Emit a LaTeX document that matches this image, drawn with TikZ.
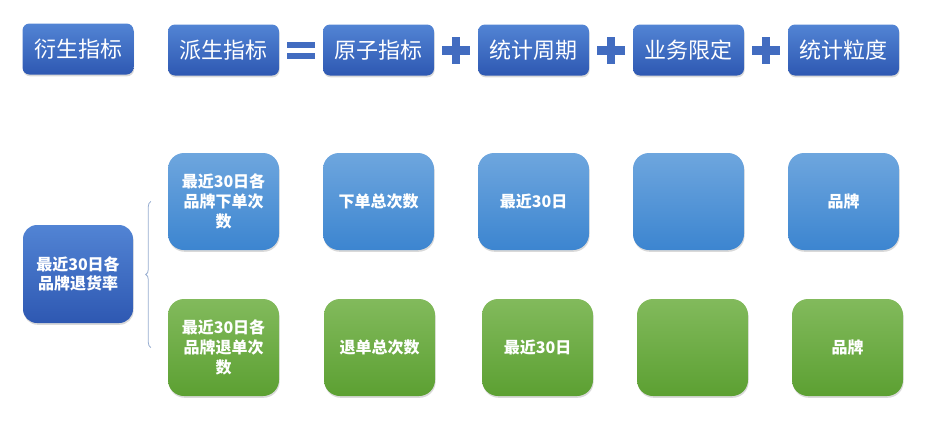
\documentclass[tikz,border=0pt]{standalone}
\usepackage{fontspec}
\setmainfont{Noto Sans CJK SC}
\usepackage{tikz}
\usetikzlibrary{shapes, shadows, positioning, decorations.pathreplacing}
\definecolor{hdA}{RGB}{82,132,212}
\definecolor{hdB}{RGB}{46,88,178}
\definecolor{blA}{RGB}{110,166,222}
\definecolor{blB}{RGB}{60,133,208}
\definecolor{grA}{RGB}{130,186,92}
\definecolor{grB}{RGB}{92,160,50}
\definecolor{opc}{RGB}{66,108,192}
\definecolor{brc}{RGB}{150,172,208}
\tikzstyle{boxshadow} = [drop shadow={shadow xshift=0.6pt, shadow yshift=-1.8pt, opacity=0.3}]
\tikzstyle{head} = [rectangle, rounded corners=7pt, minimum width=111pt, minimum height=51pt, top color=hdA, bottom color=hdB, text=white, font=\fontsize{22}{26}\selectfont, boxshadow]
\tikzstyle{card} = [rectangle, rounded corners=16pt, minimum width=111pt, minimum height=97pt, text=white, align=center, font=\bfseries\fontsize{16}{20}\selectfont, boxshadow]
\tikzstyle{bluecard} = [card, top color=blA, bottom color=blB]
\tikzstyle{greencard} = [card, top color=grA, bottom color=grB]
\tikzstyle{rootcard} = [card, rounded corners=14pt, minimum width=110pt, minimum height=98pt, top color=hdA, bottom color=hdB, font=\bfseries\fontsize{16}{19}\selectfont]
\tikzstyle{plusop} = [inner sep=0pt, minimum width=28pt, minimum height=27pt, path picture={
    \fill[opc] ([yshift=-4.5pt]path picture bounding box.west) rectangle ([yshift=4.5pt]path picture bounding box.east);
    \fill[opc] ([xshift=-4pt]path picture bounding box.south) rectangle ([xshift=4pt]path picture bounding box.north);}]
\tikzstyle{eqop} = [inner sep=0pt, minimum width=28pt, minimum height=17pt, path picture={
    \fill[opc] (path picture bounding box.north west) rectangle ([yshift=-6pt]path picture bounding box.north east);
    \fill[opc] ([yshift=6pt]path picture bounding box.south west) rectangle (path picture bounding box.south east);}]
\tikzstyle{bracket} = [draw=brc, line width=0.8pt, decorate, decoration={brace, amplitude=5pt}]

\begin{document}
\begin{tikzpicture}[auto, node distance=155pt]
    \useasboundingbox (0,0) rectangle (947pt,-421pt);
    % top row
    \node [head] (yansheng) at (78pt,-49pt) {衍生指标};
    \node [head] (paisheng) at (223.5pt,-50pt) {派生指标};
    \node [head, right of=paisheng] (yuanzi) {原子指标};
    \node [head, right of=yuanzi] (zhouqi) {统计周期};
    \node [head, right of=zhouqi] (xianding) {业务限定};
    \node [head, right of=xianding] (lidu) {统计粒度};
    \node [eqop, right of=paisheng, node distance=77.5pt] (eq) {};
    \node [plusop, right of=yuanzi, node distance=77.5pt] (plus1) {};
    \node [plusop, right of=zhouqi, node distance=77.5pt] (plus2) {};
    \node [plusop, right of=xianding, node distance=77.5pt] (plus3) {};
    % orders
    \node [bluecard] (xiadan) at (223.5pt,-201.5pt) {最近30日各\\品牌下单次\\数};
    \node [bluecard, right of=xiadan] (xdcount) {下单总次数};
    \node [bluecard, right of=xdcount] (xdperiod) {最近30日};
    \node [bluecard, right of=xdperiod] (xdlimit) {};
    \node [bluecard, right of=xdlimit] (xdgrain) {品牌};
    % returns
    \node [greencard, below of=xiadan, node distance=146pt] (tuidan) {最近30日各\\品牌退单次\\数};
    \node [greencard, right of=tuidan, node distance=156pt] (tdcount) {退单总次数};
    \node [greencard, right of=tdcount, node distance=158pt] (tdperiod) {最近30日};
    \node [greencard, right of=tdperiod] (tdlimit) {};
    \node [greencard, right of=tdlimit] (tdgrain) {品牌};
    \node [rootcard] (tuihuolv) at (78pt,-274pt) {最近30日各\\品牌退货率};
    \draw [bracket] ([xshift=-17pt]tuidan.west) -- ([xshift=-17pt]xiadan.west);
\end{tikzpicture}
\end{document}
